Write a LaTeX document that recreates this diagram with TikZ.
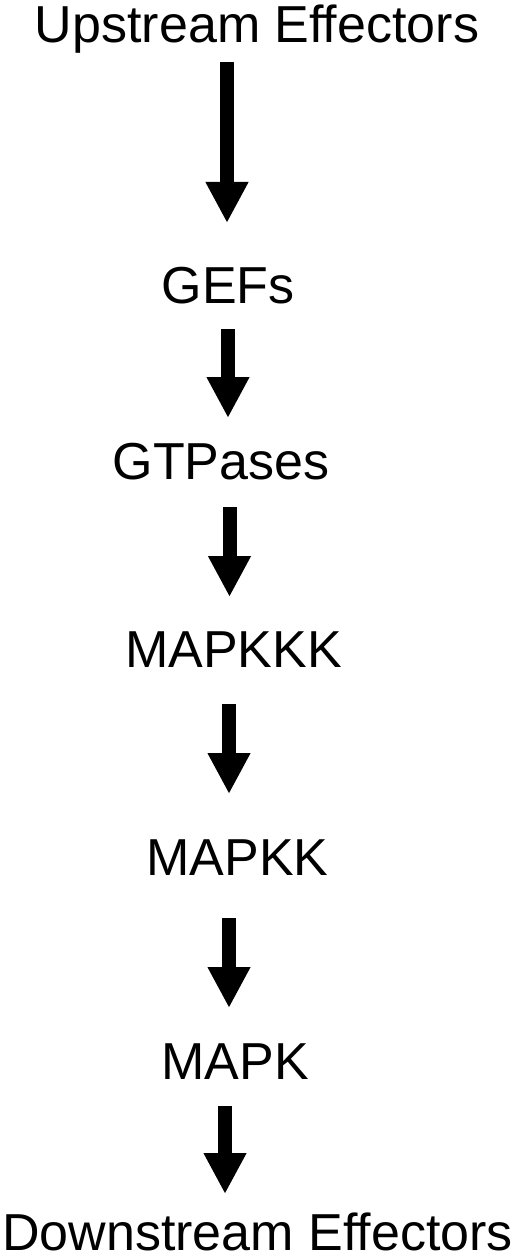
\documentclass[tikz,border=0pt]{standalone}
\usepackage{fontspec}
\setmainfont{Liberation Sans}
\usetikzlibrary{arrows.meta}
\begin{document}
\begin{tikzpicture}[x=1pt,y=-1pt,
  lbl/.style={anchor=base,inner sep=0pt,font=\fontsize{52}{60}\selectfont},
  bigarrow/.style={line width=14pt,-{Triangle[width=40pt,length=41pt]}}]
\useasboundingbox (0,0) rectangle (520,1260);
\node[lbl] (up)   at (257,43)   {Upstream Effectors};
\node[lbl] (gef)  at (228,303)  {GEFs};
\node[lbl] (gtp)  at (221,479)  {GTPases};
\node[lbl] (mkkk) at (233.5,667){MAPKKK};
\node[lbl] (mkk)  at (237.5,875){MAPKK};
\node[lbl] (mk)   at (235,1079) {MAPK};
\node[lbl] (down) at (257.5,1250){Downstream Effectors};
\coordinate (s1) at (227,62);   \coordinate (e1) at (227,223);
\coordinate (s2) at (228,329);  \coordinate (e2) at (228,418);
\coordinate (s3) at (229.5,507);\coordinate (e3) at (229.5,597);
\coordinate (s4) at (229,704);  \coordinate (e4) at (229,794);
\coordinate (s5) at (229,918);  \coordinate (e5) at (229,1008);
\coordinate (s6) at (225,1106); \coordinate (e6) at (225,1194);
\draw[bigarrow] (s1) -- (e1);
\draw[bigarrow] (s2) -- (e2);
\draw[bigarrow] (s3) -- (e3);
\draw[bigarrow] (s4) -- (e4);
\draw[bigarrow] (s5) -- (e5);
\draw[bigarrow] (s6) -- (e6);
\end{tikzpicture}
\end{document}
